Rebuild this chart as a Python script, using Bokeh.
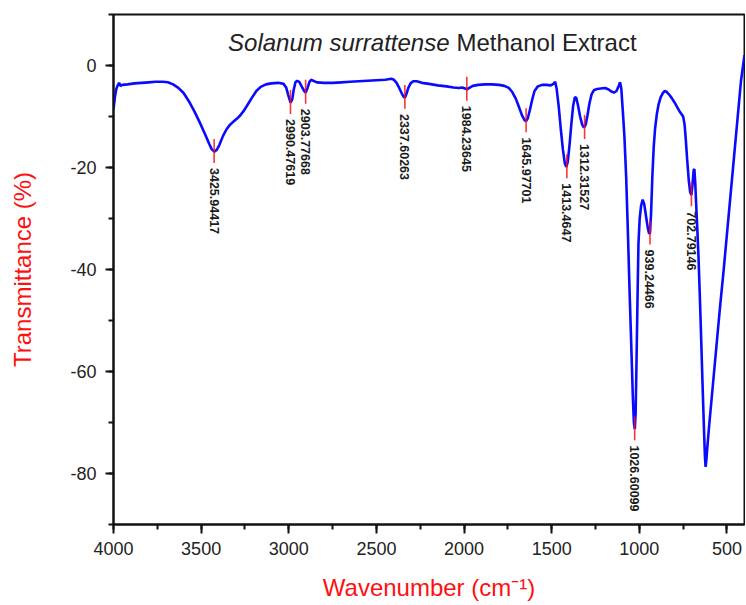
import math
from bokeh.plotting import figure
from bokeh.models import (Range1d, SingleIntervalTicker, Label, ColumnDataSource,
                          PrintfTickFormatter)
from bokeh.core.properties import value
from bokeh.embed import file_html
from bokeh.resources import INLINE

# ---- data ----
wavenumber = [
    4000, 3992, 3984, 3976, 3968, 3960, 3950, 3920, 3880, 3840, 3800, 3760, 3720,
    3690, 3660, 3630, 3600, 3570, 3540, 3510, 3480, 3455, 3440, 3425, 3410, 3395,
    3375, 3355, 3335, 3315, 3295, 3275, 3255, 3235, 3210, 3185, 3160, 3130, 3100,
    3060, 3030, 3015, 3003, 2990, 2980, 2972, 2962, 2952, 2940, 2925, 2912, 2903,
    2893, 2882, 2872, 2860, 2840, 2800, 2750, 2700, 2650, 2600, 2550, 2500, 2450,
    2415, 2400, 2385, 2370, 2355, 2345, 2337, 2328, 2318, 2305, 2290, 2270, 2240,
    2200, 2150, 2100, 2060, 2030, 2010, 1995, 1984, 1970, 1950, 1920, 1880, 1840,
    1800, 1770, 1745, 1725, 1705, 1685, 1668, 1655, 1646, 1636, 1625, 1612, 1598,
    1580, 1555, 1530, 1505, 1490, 1480, 1472, 1460, 1448, 1436, 1425, 1416, 1408,
    1398, 1388, 1378, 1368, 1360, 1350, 1338, 1326, 1316, 1306, 1296, 1285, 1272,
    1258, 1240, 1220, 1195, 1175, 1160, 1145, 1130, 1118, 1110, 1103, 1095, 1085,
    1075, 1065, 1055, 1045, 1037, 1031, 1026, 1021, 1016, 1010, 1005, 998, 990,
    981, 972, 962, 952, 944, 939, 933, 926, 918, 910, 900, 890, 878, 866, 855,
    843, 830, 815, 800, 785, 772, 760, 750, 742, 735, 727, 718, 710, 703, 697,
    690, 686, 681, 676, 670, 663, 655, 646, 638, 631, 626, 622, 618, 610, 600,
    580, 560, 540, 520, 500, 480, 460, 440, 420, 408, 400,
]
transmittance = [
    -8.6, -6.2, -4.6, -3.9, -3.4, -4.0, -3.8, -3.7, -3.5, -3.4, -3.3, -3.2, -3.2,
    -3.3, -3.7, -4.4, -5.4, -7.0, -8.9, -11.0, -13.3, -15.3, -16.4, -16.9, -16.5, -15.5,
    -13.8, -12.5, -11.6, -11.0, -10.4, -9.7, -8.8, -7.7, -6.3, -5.0, -4.2, -3.7, -3.5,
    -3.4, -3.6, -4.3, -5.8, -7.3, -6.6, -4.8, -3.3, -3.0, -3.2, -4.2, -5.0, -5.3,
    -4.4, -3.2, -2.8, -3.0, -3.3, -3.4, -3.4, -3.3, -3.2, -3.1, -3.0, -2.9, -2.8,
    -2.6, -2.8, -3.4, -4.4, -5.5, -6.1, -6.3, -5.5, -4.4, -3.5, -3.1, -3.1, -3.4,
    -3.6, -3.9, -4.1, -4.3, -4.4, -4.3, -4.5, -4.7, -4.4, -4.0, -3.8, -3.7, -3.7,
    -3.8, -4.0, -4.4, -5.2, -6.5, -8.3, -9.9, -10.7, -10.9, -10.3, -8.8, -6.8, -5.0,
    -4.1, -3.8, -3.8, -3.9, -3.6, -3.2, -4.5, -8.0, -12.5, -16.5, -19.2, -19.9, -18.8,
    -15.5, -11.5, -8.0, -6.2, -6.3, -7.8, -10.0, -11.6, -12.2, -11.6, -9.8, -7.5, -5.6,
    -4.8, -4.6, -4.5, -4.4, -4.7, -5.1, -5.3, -5.0, -4.0, -3.3, -4.5, -8.5, -14.0,
    -22.0, -33.0, -45.0, -56.0, -65.0, -70.0, -71.3, -68.0, -58.0, -45.0, -35.0, -30.0, -27.5,
    -26.3, -27.2, -29.5, -31.8, -33.0, -32.8, -29.0, -22.0, -16.0, -12.3, -9.5, -7.6, -6.2, -5.4, -5.0,
    -5.2, -5.7, -6.4, -7.2, -8.1, -8.9, -9.5, -10.0, -11.5, -14.5, -18.5, -22.5, -24.8, -25.4, -23.5,
    -20.5, -20.3, -23.0, -27.0, -31.5, -37.0, -45.0, -55.0, -64.0, -71.5, -76.5, -78.7, -77.5, -74.0, -70.0,
    -62.5, -55.0, -47.5, -40.5, -33.0, -25.5, -18.0, -10.5, -3.0, 0.0, 2.0,
]

peak_labels = ["3425.94417", "2990.47619", "2903.77668", "2337.60263", "1984.23645",
               "1645.97701", "1413.4647", "1312.31527", "1026.60099", "939.24466",
               "702.79146"]
peak_wn = [3425.94417, 2990.47619, 2903.77668, 2337.60263, 1984.23645,
           1645.97701, 1413.4647, 1312.31527, 1026.60099, 939.24466, 702.79146]
peak_T = [-16.9, -7.3, -5.3, -6.3, -4.7, -10.9, -19.9, -12.2, -71.3, -32.9, -25.4]

title_italic = "Solanum surrattense"
title_rest = "Methanol Extract"
x_label = "Wavenumber (cm\u207b\u00b9)"
y_label = "Transmittance (%)"

FONT = "Liberation Sans"
RED = "#ff1010"

p = figure(width=745, height=604, output_backend="svg", toolbar_location=None,
           x_range=Range1d(4000, 400), y_range=Range1d(-90, 10),
           min_border_left=113, min_border_right=1, min_border_top=14,
           min_border_bottom=80)
p.background_fill_color = "white"
p.border_fill_color = "white"
p.xgrid.visible = False
p.ygrid.visible = False
p.outline_line_color = "#111111"
p.outline_line_width = 2

# spectrum
p.line(wavenumber, transmittance, line_color="#0a0aff", line_width=2.6)

# peak markers and labels
mk = ColumnDataSource(dict(
    x=peak_wn,
    y0=[t + 2.5 for t in peak_T],
    y1=[t - 2.2 for t in peak_T],
    ylab=[t - 3.2 for t in peak_T],
    lab=peak_labels,
))
p.segment(x0="x", y0="y0", x1="x", y1="y1", source=mk, line_color=RED,
          line_width=1.6, line_alpha=0.85)
p.text(x="x", y="ylab", text="lab", source=mk, angle=-math.pi / 2,
       text_align="left", text_baseline="middle", text_font=value(FONT),
       text_font_size="12.5px", text_font_style="bold", text_color="#1a1a1a")

# title inside plot
p.add_layout(Label(x=2083, y=4.5, text=title_italic, text_align="right",
                   text_baseline="alphabetic", text_font=FONT,
                   text_font_size="24px", text_font_style="italic",
                   text_color="#222222"))
p.add_layout(Label(x=2043, y=4.5, text=title_rest, text_align="left",
                   text_baseline="alphabetic", text_font=FONT,
                   text_font_size="24px", text_color="#222222"))

# axes
for ax in (p.xaxis[0], p.yaxis[0]):
    ax.axis_line_width = 2
    ax.axis_line_color = "#111111"
    ax.major_tick_line_width = 2
    ax.minor_tick_line_width = 2
    ax.major_tick_line_color = "#111111"
    ax.minor_tick_line_color = "#111111"
    ax.major_tick_in = 0
    ax.minor_tick_in = 0
    ax.minor_tick_out = 5
    ax.major_label_text_font = FONT
    ax.major_label_text_font_size = "18px"
    ax.major_label_text_color = "#222222"
    ax.axis_label_text_font = FONT
    ax.axis_label_text_font_size = "24px"
    ax.axis_label_text_font_style = "normal"
    ax.axis_label_text_color = RED
    ax.formatter = PrintfTickFormatter(format="%d")

p.xaxis.ticker = SingleIntervalTicker(interval=500, num_minor_ticks=2)
p.yaxis.ticker = SingleIntervalTicker(interval=20, num_minor_ticks=2)
p.xaxis.major_tick_out = 9
p.yaxis.major_tick_out = 8
p.xaxis.major_label_standoff = 8
p.yaxis.major_label_standoff = 9
p.xaxis.axis_label = x_label
p.yaxis.axis_label = y_label
p.xaxis.axis_label_standoff = 16
p.yaxis.axis_label_standoff = 31

open("out.html", "w").write(file_html(p, INLINE))
